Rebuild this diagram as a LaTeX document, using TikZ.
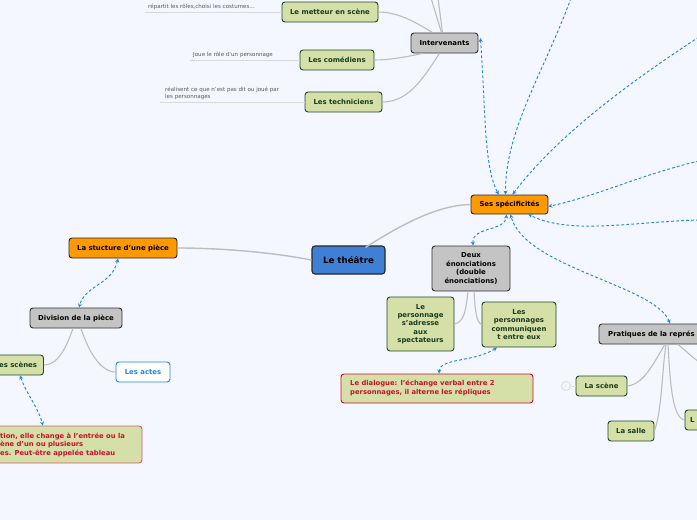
\documentclass[tikz,border=0pt]{standalone}
\usepackage{fontspec}
\setmainfont{DejaVu Sans}
\usetikzlibrary{arrows.meta}
\definecolor{bgc}{HTML}{F4F7FF}
\definecolor{grn}{HTML}{D5DFA8}
\definecolor{grnb}{HTML}{1F4A25}
\definecolor{orn}{HTML}{FF9900}
\definecolor{gry}{HTML}{C4C4C4}
\definecolor{blu}{HTML}{3F7FD6}
\definecolor{lnk}{HTML}{1E88E8}
\definecolor{redt}{HTML}{C8102E}
\definecolor{brc}{HTML}{BDBDBD}
\tikzset{
 box/.style={draw,rounded corners=3pt,line width=0.9pt,inner sep=0pt,align=center,font=\bfseries\fontsize{6.9}{8.4}\selectfont},
 greenbox/.style={box,fill=grn,draw=grnb,text=grnb!80!black},
 graybox/.style={box,fill=gry,draw=black!80,text=black},
 orangebox/.style={box,fill=orn,draw=black!85,text=black},
 redbox/.style={box,fill=grn,draw=redt,text=redt,align=left},
 whitebox/.style={box,fill=white,draw=lnk,text=lnk},
 branch/.style={draw=brc,line width=1.1pt},
 thinline/.style={draw=black!15,line width=0.7pt},
 note/.style={inner sep=0pt,anchor=west,align=left,text=black!65,font=\fontsize{5.55}{7}\selectfont},
 link/.style={draw=lnk,line width=0.95pt,dash pattern=on 2.8pt off 2.2pt,{Stealth[length=4pt,width=4pt]}-{Stealth[length=4pt,width=4pt]}},
 linko/.style={draw=lnk,line width=0.95pt,dash pattern=on 2.8pt off 2.2pt,-{Stealth[length=4pt,width=4pt]}},
}
\begin{document}
\begin{tikzpicture}[x=1pt,y=-1pt]
\useasboundingbox (0,0) rectangle (697,520);
\clip (0,0) rectangle (697,520);
\fill[bgc] (0,0) rectangle (697,520);

% free ends beyond the frame
\coordinate (up1) at (431,-2);
\coordinate (up2) at (438,-2);
\coordinate (r1) at (571,-2);
\coordinate (r2) at (699,37);
\coordinate (r3) at (699,161);
\coordinate (r4) at (699,220);
\coordinate (r5) at (699,362);
\coordinate (n1) at (145,12);
\coordinate (n2) at (190,60);
\coordinate (n3) at (160,102);

\node[greenbox,minimum width=96pt,minimum height=20pt] (met) at (330,12) {Le metteur en scène};
\node[greenbox,minimum width=74pt,minimum height=20pt] (com) at (337,60) {Les comédiens};
\node[greenbox,minimum width=77pt,minimum height=20pt] (tec) at (343.5,102) {Les techniciens};
\node[graybox,minimum width=67pt,minimum height=20pt] (int) at (444.5,43) {Intervenants};
\node[orangebox,minimum width=77pt,minimum height=19pt] (ses) at (509.5,204.5) {Ses spécificités};
\node[box,fill=blu,draw=black!85,line width=1.1pt,text=black,font=\bfseries\fontsize{8.7}{10}\selectfont,minimum width=73pt,minimum height=28pt] (the) at (348.5,260) {Le théâtre};
\node[orangebox,minimum width=108pt,minimum height=20pt] (str) at (123,248) {La stucture d'une pièce};
\node[graybox,minimum width=92pt,minimum height=20pt] (div) at (76,318) {Division de la pièce};
\node[greenbox,minimum width=53pt,minimum height=20pt] (sce) at (17,365) {\hspace*{0pt}};
\node[whitebox,minimum width=54pt,minimum height=20pt] (act) at (143,372) {Les actes};
\node[redbox,minimum width=152pt,minimum height=37pt,draw=redt!70] (red) at (66,444.5) {};
\node[graybox,minimum width=78pt,minimum height=45pt] (deu) at (471,268.5) {Deux\\énonciations\\(double\\énonciations)};
\node[greenbox,minimum width=67pt,minimum height=54pt] (per) at (420.5,324) {Le\\personnage\\s'adresse\\aux\\spectateurs};
\node[greenbox,minimum width=74pt,minimum height=45pt] (pes) at (519,324.5) {Les\\personnages\\communiquen\\t entre eux};
\node[redbox,minimum width=192pt,minimum height=29pt] (dia) at (437,388.5) {};
\node[graybox,minimum width=130pt,minimum height=20pt] (pra) at (664,334) {};
\node[greenbox,minimum width=51pt,minimum height=20pt] (lsc) at (601.5,386) {La scène};
\node[greenbox,minimum width=46pt,minimum height=20pt] (lsa) at (631,431) {La salle};
\node[greenbox,minimum width=40pt,minimum height=20pt] (lle) at (705,420) {};
\node[circle,draw=black!12,line width=1pt,fill=bgc,minimum size=9pt,inner sep=0pt,text=black!20,font=\fontsize{4}{4}\selectfont] (inf) at (566,386) {i};

% texts that the frame cuts
\node[anchor=west,inner sep=0pt,text=grnb!80!black,font=\bfseries\fontsize{6.9}{8.4}\selectfont] (tsce) at (-1,365) {es scènes};
\node[anchor=west,inner sep=0pt,align=left,text=redt,font=\bfseries\fontsize{6.8}{8.5}\selectfont] (tred) at (0,444.5) {tion, elle change à l'entrée ou la\\ène d'un ou plusieurs\\es. Peut-être appelée tableau};
\node[anchor=west,inner sep=0pt,align=left,text=redt,font=\bfseries\fontsize{6.8}{9}\selectfont] (tdia) at (350,388.5) {Le dialogue: l'échange verbal entre 2\\personnages, il alterne les répliques};
\node[anchor=west,inner sep=0pt,text=black,font=\bfseries\fontsize{6.9}{8.4}\selectfont] (tpra) at (608,334) {Pratiques de la représ};
\node[anchor=west,inner sep=0pt,text=grnb!80!black,font=\bfseries\fontsize{6.9}{8.4}\selectfont] (tlle) at (690,420) {L};

% notes
\node[note] (t1) at (148,6.5) {répartit les rôles,choisi les costumes...};
\node[note] (t2) at (193,54.5) {Joue le rôle d'un personnage};
\node[note] (t3) at (165,93) {réalisent ce que n'est pas dit ou joué par\\les personnages};

\draw[thinline] (met.west) -- (n1);
\draw[thinline] (com.west) -- (n2);
\draw[thinline] (tec.west) -- (n3);
\draw[branch] (met.east) .. controls (400,12) and (420,25) .. ([xshift=-12pt]int.north);
\draw[branch] (com.east) .. controls (390,60) and (405,57) .. ([xshift=-22pt]int.south);
\draw[branch] (tec.east) .. controls (410,102) and (425,75) .. ([xshift=-5pt]int.south);
\draw[branch] ([xshift=-3pt]int.north) -- (up1);
\draw[branch] ([xshift=-2pt]int.north) -- (up2);
\draw[branch,line width=1.4pt] ([yshift=-2pt,xshift=-20pt]the.north east) .. controls (405,222) and (440,205) .. (ses.west);
\draw[branch,line width=1.4pt] (the.west) .. controls (270,252) and (220,248) .. (str.east);
\draw[branch] ([xshift=-3pt]div.south) .. controls (68,342) and (60,365) .. (sce.east);
\draw[branch] ([xshift=5pt]div.south) .. controls (88,350) and (100,372) .. (act.west);
\draw[branch] ([xshift=-3pt]deu.south) .. controls (466,308) and (465,322) .. (per.east);
\draw[branch] ([xshift=3pt]deu.south) .. controls (475,308) and (476,322) .. (pes.west);
\draw[branch] ([xshift=1pt]pra.south) .. controls (655,360) and (645,384) .. (lsc.east);
\draw[branch] ([xshift=2pt]pra.south) .. controls (662,370) and (662,410) .. (lsa.east);
\draw[branch] ([xshift=4pt]pra.south) .. controls (670,380) and (672,418) .. (lle.west);
\draw[branch] ([xshift=14pt]pra.south) .. controls (685,350) and (692,357) .. (r5);
\draw[branch,line width=1pt,draw=black!12] (inf.east) -- (lsc.west);

% links
\draw[link] ([xshift=2pt,yshift=5pt]int.east) .. controls (486,120) and (484,165) .. ([xshift=-11pt]ses.north);
\draw[linko] (r1) .. controls (545,70) and (505,130) .. ([xshift=-4pt]ses.north);
\draw[linko] (r2) .. controls (610,95) and (550,145) .. ([xshift=3pt]ses.north);
\draw[linko] (r3) .. controls (640,175) and (600,195) .. ([yshift=-2pt]ses.east);
\draw[linko] (r4) .. controls (630,222) and (570,235) .. ([xshift=19pt]ses.south);
\draw[link] ([xshift=2pt]deu.north) .. controls (472,226) and (505,232) .. ([xshift=-3pt]ses.south);
\draw[link] ([xshift=6pt]pra.north) .. controls (655,285) and (525,268) .. ([xshift=1pt]ses.south);
\draw[link] ([xshift=-22pt]pes.south) .. controls (475,362) and (440,358) .. ([xshift=2pt]dia.north);
\draw[link] ([xshift=-5pt]str.south) .. controls (112,285) and (85,285) .. ([xshift=3pt]div.north);
\draw[link] ([xshift=3pt]sce.south) .. controls (27,395) and (37,405) .. ([xshift=-23pt]red.north);
\end{tikzpicture}
\end{document}
